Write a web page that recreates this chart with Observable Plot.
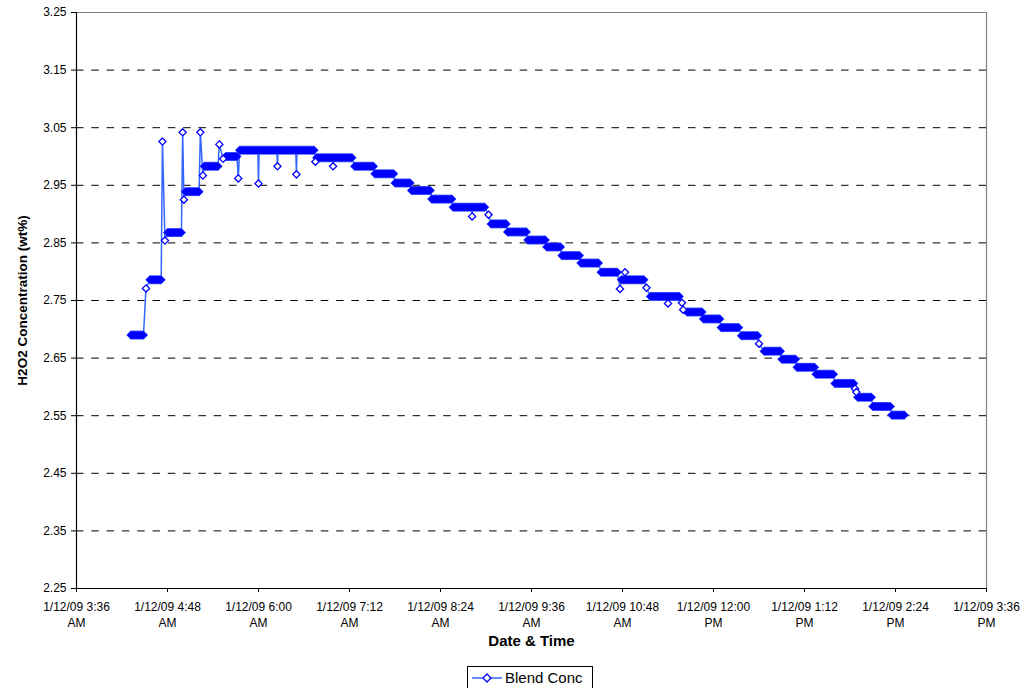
<!DOCTYPE html>
<html>
<head>
<meta charset="utf-8">
<script src="https://cdn.jsdelivr.net/npm/d3@7"></script>
<script src="https://cdn.jsdelivr.net/npm/@observablehq/plot@0.6"></script>
<style>
  html, body { margin: 0; padding: 0; background: #fff; }
  body { width: 1030px; height: 688px; overflow: hidden; font-family: "Liberation Sans", Arial, sans-serif; }
  #chart svg { display: block; }
  #legend { position: absolute; left: 467px; top: 666px; width: 124px; height: 21px; border: 1px solid #000; background: #fff;
            display: flex; align-items: center; font-size: 15px; color: #000; }
  #legend svg { display: block; margin-left: 4px; margin-right: 3px; }
</style>
</head>
<body>
<div id="chart"></div>
<div id="legend">
  <svg width="30" height="12"><line x1="0" y1="6" x2="30" y2="6" stroke="#3366ff" stroke-width="1.5"/><path d="M15,2L19,6L15,10L11,6Z" fill="#fff" stroke="#0000ff" stroke-width="1.3"/></svg>
  <span>Blend Conc</span>
</div>
<script>
// ---- data ----
const seriesName = "Blend Conc";
const dateLabel = "1/12/09";

// plateaus of densely logged readings: start, end, value (wt%)
const levelStart = ["04:19","04:34","04:48","05:02","05:17","05:34","05:45","06:46","07:16","07:32",
                    "07:48","08:01","08:17","08:34","09:04","09:17","09:33","09:48","10:00","10:15",
                    "10:31","10:47","11:10","11:39","11:52","12:06","12:22","12:40","12:54","13:06",
                    "13:21","13:36","13:54","14:06","14:21"];
const levelEnd   = ["04:29","04:43","04:59","05:13","05:28","05:43","06:44","07:14","07:31","07:47",
                    "08:00","08:16","08:33","08:59","09:16","09:32","09:47","09:59","10:14","10:29",
                    "10:44","11:05","11:33","11:51","12:05","12:20","12:35","12:53","13:05","13:20",
                    "13:35","13:51","14:05","14:20","14:31"];
const levelValue = [2.690,2.786,2.868,2.939,2.983,3.000,3.011,2.998,2.983,2.970,
                    2.954,2.941,2.926,2.912,2.883,2.869,2.855,2.843,2.828,2.815,
                    2.799,2.786,2.757,2.730,2.718,2.703,2.689,2.662,2.648,2.634,
                    2.622,2.606,2.582,2.566,2.551];

// isolated readings (spikes / transitions)
const extraTime  = ["04:31","04:44","04:46","05:00","05:01","05:14","05:16","05:29","05:32","05:44",
                    "06:00","06:15","06:30","06:45","06:59","08:49","09:02","10:46","10:50","11:07",
                    "11:24","11:35","11:36","12:36","13:52","13:53"];
const extraValue = [2.771,3.026,2.854,3.042,2.925,3.042,2.967,3.021,2.996,2.962,
                    2.953,2.983,2.969,2.991,2.983,2.896,2.899,2.770,2.799,2.772,
                    2.745,2.746,2.734,2.675,2.597,2.591];

// axes
const xTickTimes  = ["03:36","04:48","06:00","07:12","08:24","09:36","10:48","12:00","13:12","14:24","15:36"];
const xTickLabels = ["1/12/09 3:36\nAM","1/12/09 4:48\nAM","1/12/09 6:00\nAM","1/12/09 7:12\nAM","1/12/09 8:24\nAM",
                     "1/12/09 9:36\nAM","1/12/09 10:48\nAM","1/12/09 12:00\nPM","1/12/09 1:12\nPM","1/12/09 2:24\nPM",
                     "1/12/09 3:36\nPM"];
const yTicks = [2.25,2.35,2.45,2.55,2.65,2.75,2.85,2.95,3.05,3.15,3.25];
const yGrid  = [2.35,2.45,2.55,2.65,2.75,2.85,2.95,3.05,3.15];
const xTitle = "Date & Time";
const yTitle = "H2O2 Concentration (wt%)";

// ---- build ----
const parse = d3.timeParse("%m/%d/%y %H:%M");
const t = s => parse(dateLabel + " " + s);

const levels = levelStart.map((s, i) => ({start: t(s), end: t(levelEnd[i]), value: levelValue[i]}));
const extras = extraTime.map((s, i) => ({time: t(s), value: extraValue[i]}));
const ends = levels.flatMap(l => [{time: l.start, value: l.value}, {time: l.end, value: l.value}]);

const pts = ends.slice();
extras.forEach(e => {
  const l = levels.find(l => e.time > l.start && e.time < l.end);
  if (l) {
    pts.push({time: new Date(+e.time - 30000), value: l.value});
    pts.push({time: new Date(+e.time + 30000), value: l.value});
  }
  pts.push(e);
});
pts.sort((a, b) => a.time - b.time);

const xTicks = xTickTimes.map(t);
const xDomain = [xTicks[0], xTicks[xTicks.length - 1]];

const diamond = {
  draw(ctx, size) {
    const h = Math.sqrt(size / Math.PI);
    ctx.moveTo(0, -h); ctx.lineTo(h, 0); ctx.lineTo(0, h); ctx.lineTo(-h, 0); ctx.closePath();
  }
};

const blue = "#0000ff";
const lineBlue = "#3366ff";

const chart = Plot.plot({
  width: 1030,
  height: 660,
  marginLeft: 76,
  marginRight: 44,
  marginTop: 12,
  marginBottom: 72,
  style: {fontFamily: "'Liberation Sans', Arial, sans-serif", fontSize: "12px", color: "#000", background: "#fff"},
  x: {type: "time", domain: xDomain},
  y: {domain: [2.25, 3.25]},
  marks: [
    Plot.ruleY(yGrid, {stroke: "#000", strokeWidth: 1, strokeDasharray: "7.5,7.8"}),
    Plot.ruleY([3.25], {stroke: "#808080", strokeWidth: 1.2}),
    Plot.ruleX([xDomain[1]], {stroke: "#808080", strokeWidth: 1.2}),
    Plot.ruleX([xDomain[0]], {stroke: "#000", strokeWidth: 1.2}),
    Plot.ruleY([2.25], {stroke: "#000", strokeWidth: 1.2}),
    Plot.axisY({ticks: yTicks, tickFormat: d3.format(".2f"), tickSize: 5, tickPadding: 5, label: null, fontSize: 12}),
    Plot.axisX({ticks: xTicks, tickFormat: () => "", tickSize: 4, label: null}),
    Plot.text(xTicks, {x: d => d, frameAnchor: "bottom", lineAnchor: "top", dy: 11, lineHeight: 1.34,
                       text: (d, i) => xTickLabels[i], fontSize: 12, fill: "#000"}),
    Plot.text([xTitle], {frameAnchor: "bottom", dy: 57, text: d => d, fontWeight: "bold", fontSize: 15, fill: "#000"}),
    Plot.text([yTitle], {frameAnchor: "left", rotate: -90, dx: -54, textAnchor: "middle", lineAnchor: "middle",
                         text: d => d, fontWeight: "bold", fontSize: 13.5, fill: "#000"}),
    // series line
    Plot.line(pts, {x: "time", y: "value", stroke: lineBlue, strokeWidth: 1.5}),
    // dense readings (overlapping markers) as thick bands
    Plot.link(levels, {x1: "start", x2: "end", y1: "value", y2: "value", stroke: "#4060ff", strokeWidth: 9}),
    Plot.dot(ends, {x: "time", y: "value", symbol: diamond, r: 4.6, fill: "#4060ff", stroke: "none"}),
    Plot.link(levels, {x1: "start", x2: "end", y1: "value", y2: "value", stroke: blue, strokeWidth: 7.5}),
    Plot.dot(ends, {x: "time", y: "value", symbol: diamond, r: 4, fill: blue, stroke: "none"}),
    // isolated readings as open diamonds
    Plot.dot(extras, {x: "time", y: "value", symbol: diamond, r: 3.6, fill: "#fff", stroke: blue, strokeWidth: 1.3})
  ]
});
document.getElementById("chart").appendChild(chart);
</script>
</body>
</html>
